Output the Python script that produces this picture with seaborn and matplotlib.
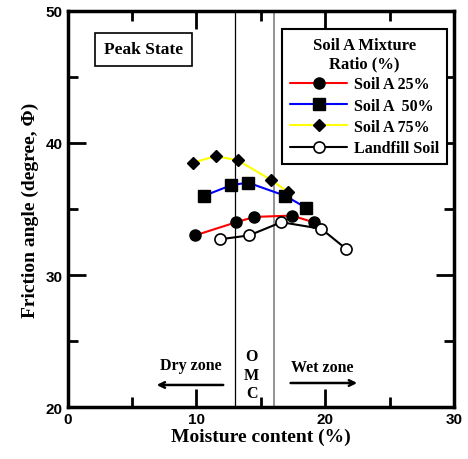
import matplotlib
matplotlib.use("Agg")
import matplotlib.pyplot as plt
import seaborn as sns
import pandas as pd

# Moisture content (%) and peak friction angle (deg) for each mix
mc_25 = [9.9, 13.1, 14.5, 17.4, 19.1]
phi_25 = [33.0, 34.0, 34.4, 34.5, 34.0]
mc_50 = [10.6, 12.7, 14.0, 16.9, 18.5]
phi_50 = [36.0, 36.8, 37.0, 36.0, 35.1]
mc_75 = [9.7, 11.5, 13.2, 15.8, 17.1]
phi_75 = [38.5, 39.0, 38.7, 37.2, 36.3]
mc_lf = [11.8, 14.1, 16.6, 19.7, 21.6]
phi_lf = [32.7, 33.0, 34.0, 33.5, 32.0]

series_names = ["Soil A 25%", "Soil A  50%", "Soil A 75%", "Landfill Soil"]
omc_bounds = [13, 16]

sns.set_style("ticks")
serif = ["Liberation Serif", "DejaVu Serif"]
sans = ["Liberation Sans", "DejaVu Sans"]
plt.rcParams["font.family"] = serif
plt.rcParams["font.weight"] = "bold"
for key in ["axes.edgecolor", "xtick.color", "ytick.color", "text.color", "axes.labelcolor"]:
    plt.rcParams[key] = "black"

fig = plt.figure(figsize=(4.68, 4.60), dpi=100)
ax = fig.add_axes([0.1444, 0.113, 0.8256, 0.861])

styles = [
    dict(color="red", marker="o", markersize=8, mfc="black", mec="black"),
    dict(color="blue", marker="s", markersize=8.5, mfc="black", mec="black"),
    dict(color="yellow", marker="D", markersize=6.2, mfc="black", mec="black"),
    dict(color="black", marker="o", markersize=8, mfc="white", mec="black", mew=1.2),
]
xs = [mc_25, mc_50, mc_75, mc_lf]
ys = [phi_25, phi_50, phi_75, phi_lf]

for name, x, y, st in zip(series_names, xs, ys, styles):
    df = pd.DataFrame({"mc": x, "phi": y})
    sns.lineplot(data=df, x="mc", y="phi", ax=ax, color=st["color"], lw=1.5,
                 marker=st["marker"], markersize=st["markersize"],
                 markerfacecolor=st["mfc"], markeredgecolor=st["mec"],
                 markeredgewidth=st.get("mew", 1.0), label=name,
                 sort=False, estimator=None)

ax.axvline(omc_bounds[0], color="black", lw=0.9, zorder=1)
ax.axvline(omc_bounds[1], color="gray", lw=1.2, zorder=1)

ax.set_xlim(0, 30)
ax.set_ylim(20, 50)
ax.set_xticks([0, 10, 20, 30])
ax.set_yticks([20, 30, 40, 50])
ax.set_xticks([5, 15, 25], minor=True)
ax.set_yticks([25, 35, 45], minor=True)
ax.tick_params(which="both", direction="in", top=True, right=True, width=2,
               color="black", labelcolor="black")
ax.tick_params(which="major", length=13)
ax.tick_params(which="minor", length=7)
for lab in ax.get_xticklabels() + ax.get_yticklabels():
    lab.set_family(sans)
    lab.set_fontweight("bold")
    lab.set_fontsize(11)
for sp in ax.spines.values():
    sp.set_linewidth(2.5)
    sp.set_color("black")
    sp.set_visible(True)

ax.set_xlabel("Moisture content (%)", fontsize=14, fontweight="bold", labelpad=1)
ax.set_ylabel("Friction angle (degree, \u03a6)", fontsize=14, fontweight="bold", labelpad=5)

leg = ax.legend(title="Soil A Mixture\nRatio (%)", loc="upper right",
                bbox_to_anchor=(0.982, 0.955), borderaxespad=0,
                fancybox=False, edgecolor="black", framealpha=1,
                handlelength=3.6, fontsize=11.5, title_fontsize=12,
                borderpad=0.5, labelspacing=0.33, handletextpad=0.4)
leg.get_frame().set_linewidth(1.5)
leg.get_title().set_fontweight("bold")
leg.get_title().set_multialignment("center")
for t in leg.get_texts():
    t.set_fontweight("bold")
for h in leg.legend_handles:
    h.set_linewidth(1.5)

ax.text(5.9, 47.1, "Peak State", ha="center", va="center", fontsize=12.5,
        fontweight="bold",
        bbox=dict(boxstyle="square,pad=0.5", fc="white", ec="black", lw=1.2))

ax.text(9.6, 23.2, "Dry zone", ha="center", va="center", fontsize=11.5, fontweight="bold")
ax.text(19.8, 23.05, "Wet zone", ha="center", va="center", fontsize=11.5, fontweight="bold")
for letter, yy in zip("OMC", [23.9, 22.45, 21.05]):
    ax.text(14.3, yy, letter, ha="center", va="center", fontsize=11.5, fontweight="bold")
ax.annotate("", xy=(6.7, 21.67), xytext=(12.3, 21.67),
            arrowprops=dict(arrowstyle="->", lw=1.8, color="black"))
ax.annotate("", xy=(22.7, 21.82), xytext=(17.1, 21.82),
            arrowprops=dict(arrowstyle="->", lw=1.8, color="black"))

fig.savefig("out.png", dpi=100)
